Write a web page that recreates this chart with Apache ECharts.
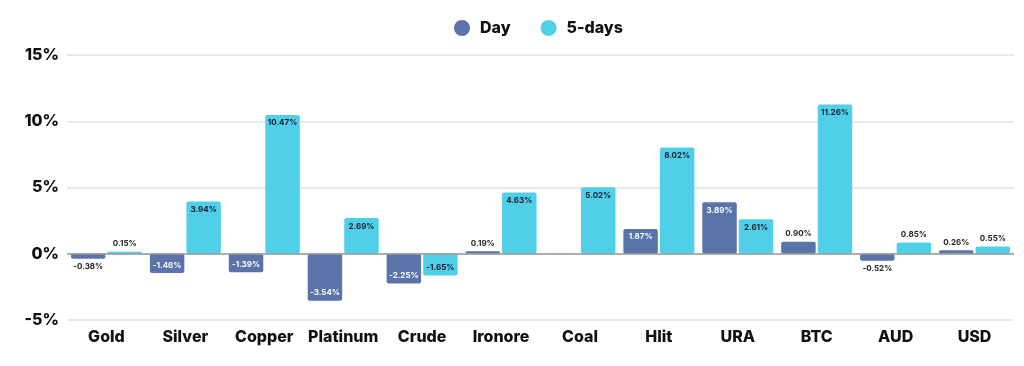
<!DOCTYPE html>
<html><head><meta charset="utf-8">
<script src="https://cdn.jsdelivr.net/npm/echarts@6/dist/echarts.min.js"></script>
<style>html,body{margin:0;padding:0;background:#fff}#c{width:1024px;height:366px}</style>
</head><body><div id="c"></div>
<script>
const categories = ['Gold','Silver','Copper','Platinum','Crude','Ironore','Coal','Hlit','URA','BTC','AUD','USD'];
const dayValues = [-0.38,-1.46,-1.39,-3.54,-2.25,0.19,0,1.87,3.89,0.90,-0.52,0.26];
const fiveDayValues = [0.15,3.94,10.47,2.69,-1.65,4.63,5.02,8.02,2.61,11.26,0.85,0.55];
const yTicks = [-5,0,5,10,15];

const DAY_COLOR = '#5a74aa';
const FIVE_COLOR = '#50cfe9';
const FONT = 'Inter, "Open Sans", sans-serif';

function mkData(vals, insideColor) {
  return vals.map(v => {
    if (v === 0) return {value: v, label: {show: false}};
    const big = Math.abs(v) >= 1;
    let pos;
    if (v > 0) pos = big ? 'insideTop' : 'top';
    else pos = big ? 'insideBottom' : 'bottom';
    return {value: v, label: {position: pos, color: big ? insideColor : '#222'}};
  });
}

const chart = echarts.init(document.getElementById('c'));
chart.setOption({
  animation: false,
  legend: {
    data: ['Day','5-days'],
    top: 15, left: 449,
    icon: 'circle', itemWidth: 16, itemHeight: 16, itemGap: 30,
    textStyle: {fontFamily: FONT, fontWeight: 800, fontSize: 16, color: '#111', padding: [0,0,0,5]}
  },
  grid: {left: 67, right: 10, top: 55, bottom: 46},
  xAxis: {
    type: 'category', data: categories,
    axisTick: {show: false},
    axisLine: {show: false},
    axisLabel: {fontFamily: FONT, fontWeight: 800, fontSize: 16, color: '#111', margin: 9, interval: 0}
  },
  yAxis: {
    type: 'value', min: yTicks[0], max: yTicks[yTicks.length-1], interval: 5,
    axisLabel: {formatter: '{value}%', fontFamily: FONT, fontWeight: 800, fontSize: 16, color: '#111', margin: 8},
    splitLine: {lineStyle: {color: '#dfe3e6', width: 1.5}},
    axisLine: {show: false}, axisTick: {show: false}
  },
  series: [
    {
      name: 'Day', type: 'bar', data: mkData(dayValues, '#fff'),
      barGap: '6%', barCategoryGap: '10%',
      itemStyle: {color: DAY_COLOR, borderRadius: 2},
      label: {show: true, formatter: p => p.value.toFixed(2) + '%', fontFamily: FONT, fontWeight: 'bold', fontSize: 8, distance: 4},
      markLine: {silent: true, symbol: 'none', label: {show: false}, lineStyle: {color: '#999', type: 'solid', width: 1.5}, data: [{yAxis: 0}]}
    },
    {
      name: '5-days', type: 'bar', data: mkData(fiveDayValues, '#1a1a2a'),
      itemStyle: {color: FIVE_COLOR, borderRadius: 2},
      label: {show: true, formatter: p => p.value.toFixed(2) + '%', fontFamily: FONT, fontWeight: 'bold', fontSize: 8, distance: 4}
    }
  ]
});
</script></body></html>
